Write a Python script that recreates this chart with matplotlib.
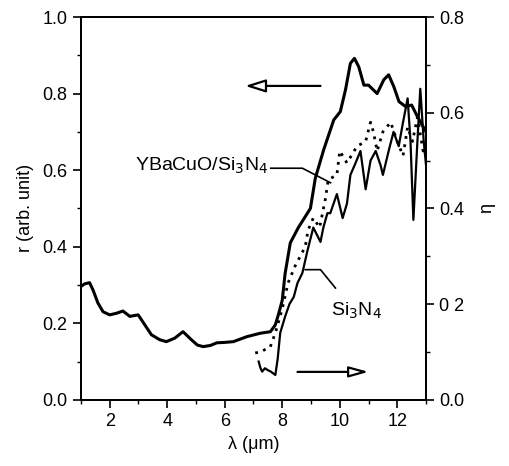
import numpy as np
from matplotlib import pyplot as plt
from matplotlib.ticker import MultipleLocator

# reflectance r (left axis)
lam_r = [1.0, 1.13, 1.3, 1.42, 1.59, 1.77, 2.0, 2.23, 2.46, 2.7, 2.99, 3.22, 3.45,
         3.74, 3.97, 4.26, 4.55, 4.84, 5.05, 5.25, 5.5, 5.73, 6.0, 6.3, 6.77,
         7.24, 7.59, 7.76, 7.88, 8.0, 8.1, 8.28, 8.56, 8.98, 9.15, 9.44, 9.79,
         10.02, 10.2, 10.37, 10.51, 10.66, 10.84, 11.0, 11.3, 11.53, 11.7, 11.88,
         12.06, 12.29, 12.5, 12.7, 12.85, 13.0]
r_val = [0.296, 0.303, 0.306, 0.287, 0.253, 0.23, 0.222, 0.226, 0.232, 0.218, 0.222,
         0.196, 0.17, 0.157, 0.152, 0.161, 0.178, 0.157, 0.143, 0.139, 0.142, 0.149,
         0.150, 0.152, 0.165, 0.174, 0.178, 0.196, 0.226, 0.26, 0.33, 0.41, 0.45,
         0.50, 0.579, 0.653, 0.731, 0.753, 0.81, 0.879, 0.892, 0.87, 0.822, 0.822,
         0.80, 0.836, 0.849, 0.818, 0.779, 0.766, 0.77, 0.74, 0.72, 0.70]

# efficiency eta, Si3N4 (right axis)
lam_si = [7.18, 7.24, 7.3, 7.4, 7.5, 7.6, 7.76, 7.84, 7.93, 8.1, 8.25, 8.4, 8.53,
          8.7, 8.87, 9.08, 9.33, 9.43, 9.57, 9.67, 9.9, 10.1, 10.25, 10.37, 10.55,
          10.72, 10.9, 11.07, 11.25, 11.42, 11.5, 11.7, 11.87, 12.05, 12.2, 12.36,
          12.46, 12.56, 12.7, 12.8, 12.92, 13.0]
eta_si = [0.08, 0.067, 0.059, 0.066, 0.062, 0.059, 0.052, 0.085, 0.14, 0.174,
          0.2, 0.215, 0.244, 0.265, 0.31, 0.36, 0.33, 0.36, 0.39, 0.39, 0.43,
          0.38, 0.41, 0.47, 0.495, 0.52, 0.44, 0.50, 0.52, 0.49, 0.47, 0.52, 0.56,
          0.53, 0.58, 0.63, 0.54, 0.376, 0.54, 0.65, 0.54, 0.49]

# efficiency eta, YBaCuO/Si3N4 (right axis)
lam_yb = [7.06, 7.24, 7.4, 7.58, 7.76, 8.0, 8.2, 8.45, 8.8, 8.9, 9.08, 9.3, 9.5,
          9.6, 9.9, 10.0, 10.25, 10.6, 10.9, 11.07, 11.17, 11.3, 11.5, 11.77,
          12.0, 12.2, 12.36, 12.53, 12.7, 12.9, 13.0]
eta_yb = [0.098, 0.10, 0.105, 0.11, 0.14, 0.19, 0.244, 0.28, 0.32, 0.355, 0.38,
          0.36, 0.42, 0.46, 0.47, 0.52, 0.495, 0.53, 0.54, 0.58, 0.56, 0.52, 0.56,
          0.58, 0.54, 0.51, 0.57, 0.54, 0.59, 0.52, 0.54]

plt.rcParams['font.family'] = ['Liberation Sans', 'DejaVu Sans']
plt.rcParams['font.size'] = 13

fig = plt.figure(figsize=(5.09, 4.66), dpi=100)
ax = fig.add_axes([0.159, 0.142, 0.678, 0.8215])
ax2 = ax.twinx()

ax.plot(lam_r, r_val, color='black', lw=2.2, solid_joinstyle='round')
ax2.plot(lam_si, eta_si, color='black', lw=1.6)
ax2.plot(lam_yb, eta_yb, color='black', lw=2.0, ls=(0, (1, 2.0)))

ax.set_xlim(1, 13)
ax.set_ylim(0, 1.0)
ax2.set_ylim(0, 0.8)

ax.xaxis.set_major_locator(MultipleLocator(2))
ax.xaxis.set_minor_locator(MultipleLocator(1))
ax.yaxis.set_minor_locator(MultipleLocator(0.1))
ax2.yaxis.set_minor_locator(MultipleLocator(0.1))
ax.set_yticks([0, 0.2, 0.4, 0.6, 0.8, 1.0])
ax.set_yticklabels(['0.0', '0.2', '0.4', '0.6', '0.8', '1.0'])
ax2.set_yticks([0, 0.2, 0.4, 0.6, 0.8])
ax2.set_yticklabels(['0.0', '0 2', '0.4', '0.6', '0.8'])

for a in (ax, ax2):
    a.tick_params(which='major', direction='out', length=6, width=1.2)
    a.tick_params(which='minor', direction='out', length=3, width=1.0)
    for s in a.spines.values():
        s.set_linewidth(1.4)

ax.set_xlabel('λ (μm)', labelpad=4)
ax.set_ylabel('r (arb. unit)', labelpad=6)
ax2.set_ylabel('η', labelpad=10)

# arrows
ax.annotate('', xy=(6.71, 0.82), xytext=(9.33, 0.82),
            arrowprops=dict(arrowstyle='-|>,head_length=0.95,head_width=0.3',
                            fc='white', ec='black', lw=1.6, shrinkA=0, shrinkB=0))
ax.annotate('', xy=(11.0, 0.073), xytext=(8.53, 0.073),
            arrowprops=dict(arrowstyle='-|>,head_length=0.9,head_width=0.25',
                            fc='white', ec='black', lw=1.6, shrinkA=0, shrinkB=0))

# labels with leader lines
ax.text(7.5, 0.61, 'YBaCuO/Si$_3$N$_4$', ha='right', va='center', fontsize=14)
ax.plot([7.6, 8.7, 9.68], [0.605, 0.605, 0.567], color='black', lw=1.2)
ax.text(10.58, 0.232, 'Si$_3$N$_4$', ha='center', va='center', fontsize=14)
ax.plot([8.8, 9.33, 9.85], [0.34, 0.34, 0.292], color='black', lw=1.2)

fig.savefig('out.png', dpi=100)
